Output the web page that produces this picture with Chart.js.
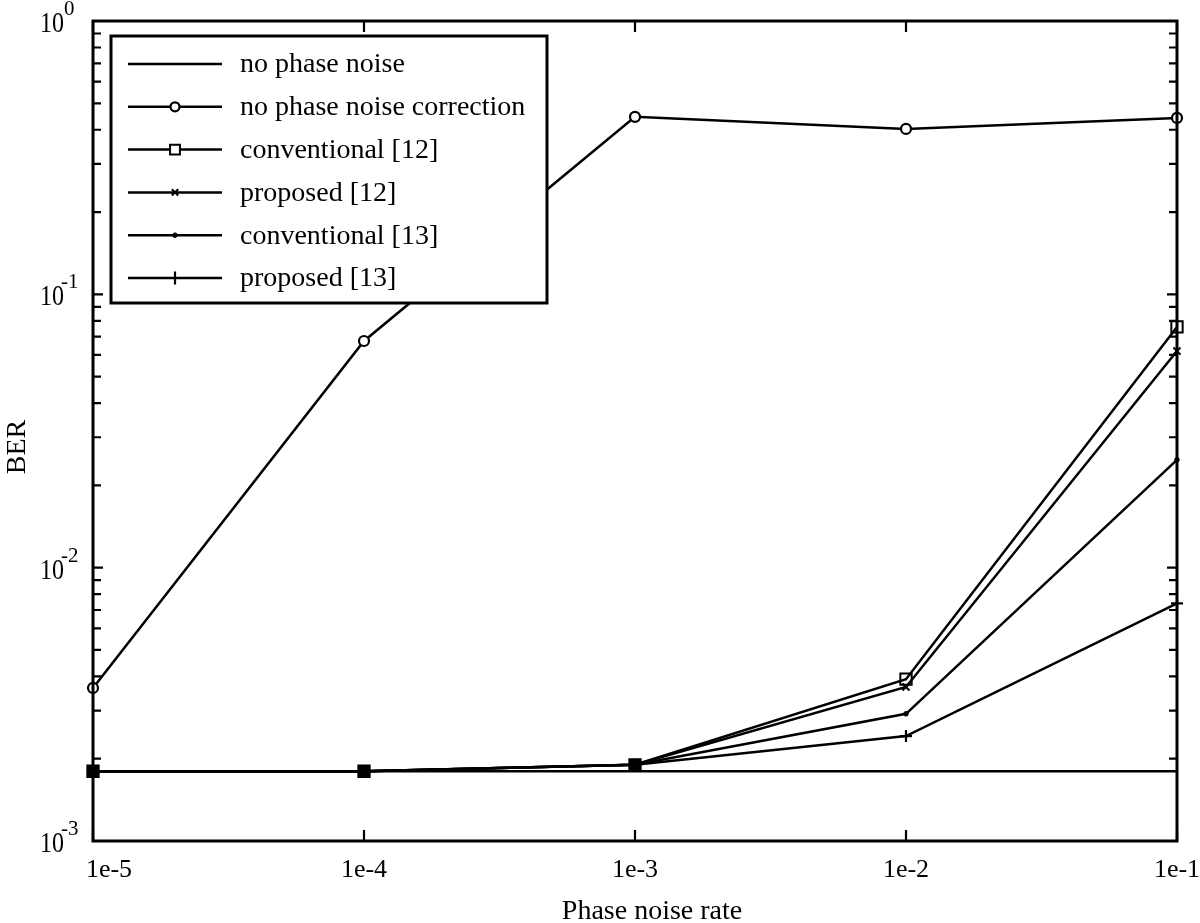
<!DOCTYPE html>
<html>
<head>
<meta charset="utf-8">
<script src="https://cdn.jsdelivr.net/npm/chart.js@4.4.1/dist/chart.umd.min.js"></script>
<style>
  html, body { margin: 0; padding: 0; background: #fff; }
  #wrap { width: 1200px; height: 923px; position: relative; }
</style>
</head>
<body>
<div id="wrap"><canvas id="c"></canvas></div>
<script>
// ---- data ----
const categories = ['1e-5', '1e-4', '1e-3', '1e-2', '1e-1'];
const noPhaseNoise = [1.8e-3, 1.8e-3, 1.8e-3, 1.8e-3, 1.8e-3];
const noCorrection = [3.63e-3, 6.75e-2, 0.446, 0.403, 0.442];
const conventional12 = [1.8e-3, 1.8e-3, 1.9e-3, 3.91e-3, 7.6e-2];
const proposed12 = [1.8e-3, 1.8e-3, 1.9e-3, 3.66e-3, 6.2e-2];
const conventional13 = [1.8e-3, 1.8e-3, 1.9e-3, 2.92e-3, 2.48e-2];
const proposed13 = [1.8e-3, 1.8e-3, 1.9e-3, 2.42e-3, 7.4e-3];
const yTickExponents = [0, -1, -2, -3];
const seriesNames = ['no phase noise', 'no phase noise correction', 'conventional [12]',
                     'proposed [12]', 'conventional [13]', 'proposed [13]'];
const xTitle = 'Phase noise rate';
const yTitle = 'BER';

const SERIF = '"Liberation Serif", "DejaVu Serif", serif';

function ds(label, data, style, radius, bg, bw) {
  return {
    label, data,
    borderColor: '#000', borderWidth: 2.5,
    pointStyle: style || 'circle',
    pointRadius: style ? radius : 0,
    pointHoverRadius: style ? radius : 0,
    pointBackgroundColor: bg || '#000',
    pointBorderColor: '#000',
    pointBorderWidth: bw === undefined ? 2 : bw,
    tension: 0, fill: false, clip: false
  };
}

// square marker looks filled where all proposed/conventional markers coincide
const squareFill = (c) =>
  (c.dataIndex !== undefined && conventional12[c.dataIndex] === proposed13[c.dataIndex])
    ? '#000' : 'rgba(0,0,0,0)';

const datasets = [
  ds(seriesNames[0], noPhaseNoise, null, 0),
  ds(seriesNames[1], noCorrection, 'circle', 5, '#fff', 2.2),
  ds(seriesNames[2], conventional12, 'rect', 8, squareFill, 2),
  ds(seriesNames[3], proposed12, 'crossRot', 5, '#000', 2),
  ds(seriesNames[4], conventional13, 'circle', 2.3, '#000', 1),
  ds(seriesNames[5], proposed13, 'cross', 6, '#000', 2.2)
];

function textScaled(ctx, txt, x, y, sx) {
  ctx.save();
  ctx.translate(x, y);
  ctx.scale(sx, 1);
  ctx.fillText(txt, 0, 0);
  ctx.restore();
}

const decorPlugin = {
  id: 'decor',
  afterDraw(chart) {
    const ctx = chart.ctx;
    const a = chart.chartArea;
    const xs = chart.scales.x, ys = chart.scales.y;
    ctx.save();
    ctx.strokeStyle = '#000';
    ctx.fillStyle = '#000';
    // frame
    ctx.lineWidth = 3;
    ctx.strokeRect(a.left, a.top, a.right - a.left, a.bottom - a.top);
    // x ticks (inward, top and bottom)
    ctx.lineWidth = 2.2;
    categories.forEach((c, i) => {
      const x = xs.getPixelForValue(i);
      ctx.beginPath();
      ctx.moveTo(x, a.bottom); ctx.lineTo(x, a.bottom - 11);
      ctx.moveTo(x, a.top); ctx.lineTo(x, a.top + 11);
      ctx.stroke();
    });
    // y ticks (major+minor, left and right)
    for (let e = -3; e < 0; e++) {
      for (let m = 1; m <= 9; m++) {
        const v = m * Math.pow(10, e);
        const y = ys.getPixelForValue(v);
        const len = m === 1 ? 10 : 8;
        ctx.beginPath();
        ctx.moveTo(a.left, y); ctx.lineTo(a.left + len, y);
        ctx.moveTo(a.right, y); ctx.lineTo(a.right - len, y);
        ctx.stroke();
      }
    }
    // x tick labels
    ctx.font = '26px ' + SERIF;
    ctx.textBaseline = 'alphabetic';
    categories.forEach((c, i) => {
      let x = xs.getPixelForValue(i);
      if (i === 0) x += 16;
      ctx.textAlign = 'center';
      ctx.fillText(c, x, a.bottom + 36);
    });
    // y tick labels: 10^e
    ctx.textAlign = 'left';
    yTickExponents.forEach((e) => {
      const y = ys.getPixelForValue(Math.pow(10, e));
      const base = y + 11;
      ctx.font = '30px ' + SERIF;
      textScaled(ctx, '10', 40, base, 0.8);
      ctx.font = '22px ' + SERIF;
      textScaled(ctx, String(e), e === 0 ? 64 : 61, base - 17, 0.95);
    });
    // axis titles
    ctx.font = '28px ' + SERIF;
    ctx.textAlign = 'center';
    ctx.fillText(xTitle, 652, 919);
    ctx.save();
    ctx.translate(25, 447);
    ctx.rotate(-Math.PI / 2);
    ctx.textBaseline = 'alphabetic';
    ctx.fillText(yTitle, 0, 0);
    ctx.restore();

    // legend box
    const lx = 111, ly = 36, lw = 436, lh = 267;
    ctx.fillStyle = '#fff';
    ctx.fillRect(lx, ly, lw, lh);
    ctx.lineWidth = 3;
    ctx.strokeRect(lx, ly, lw, lh);
    ctx.font = '28px ' + SERIF;
    ctx.textAlign = 'left';
    ctx.textBaseline = 'middle';
    const legendRadius = [0, 4.5, 7, 4.5, 2.3, 6.5];
    chart.data.datasets.forEach((d, i) => {
      const yy = 64 + i * 42.8;
      ctx.lineWidth = 2.5;
      ctx.strokeStyle = '#000';
      ctx.beginPath();
      ctx.moveTo(128, yy); ctx.lineTo(222, yy);
      ctx.stroke();
      if (d.pointRadius > 0) {
        ctx.fillStyle = (i === 2) ? '#fff' : d.pointBackgroundColor;
        ctx.lineWidth = d.pointBorderWidth;
        Chart.helpers.drawPoint(ctx, {
          pointStyle: d.pointStyle, radius: legendRadius[i], rotation: 0,
          borderWidth: d.pointBorderWidth
        }, 175, yy);
      }
      ctx.fillStyle = '#000';
      ctx.fillText(d.label, 240, yy + 1);
    });
    ctx.restore();
  }
};

new Chart(document.getElementById('c'), {
  type: 'line',
  data: { labels: categories, datasets },
  options: {
    responsive: true,
    maintainAspectRatio: false,
    animation: false,
    events: [],
    layout: { padding: { left: 93, top: 21, right: 23, bottom: 82 } },
    plugins: { legend: { display: false }, tooltip: { enabled: false }, title: { display: false } },
    scales: {
      x: { type: 'category', offset: false, display: false },
      y: { type: 'logarithmic', min: 1e-3, max: 1, display: false }
    }
  },
  plugins: [decorPlugin]
});
</script>
</body>
</html>
